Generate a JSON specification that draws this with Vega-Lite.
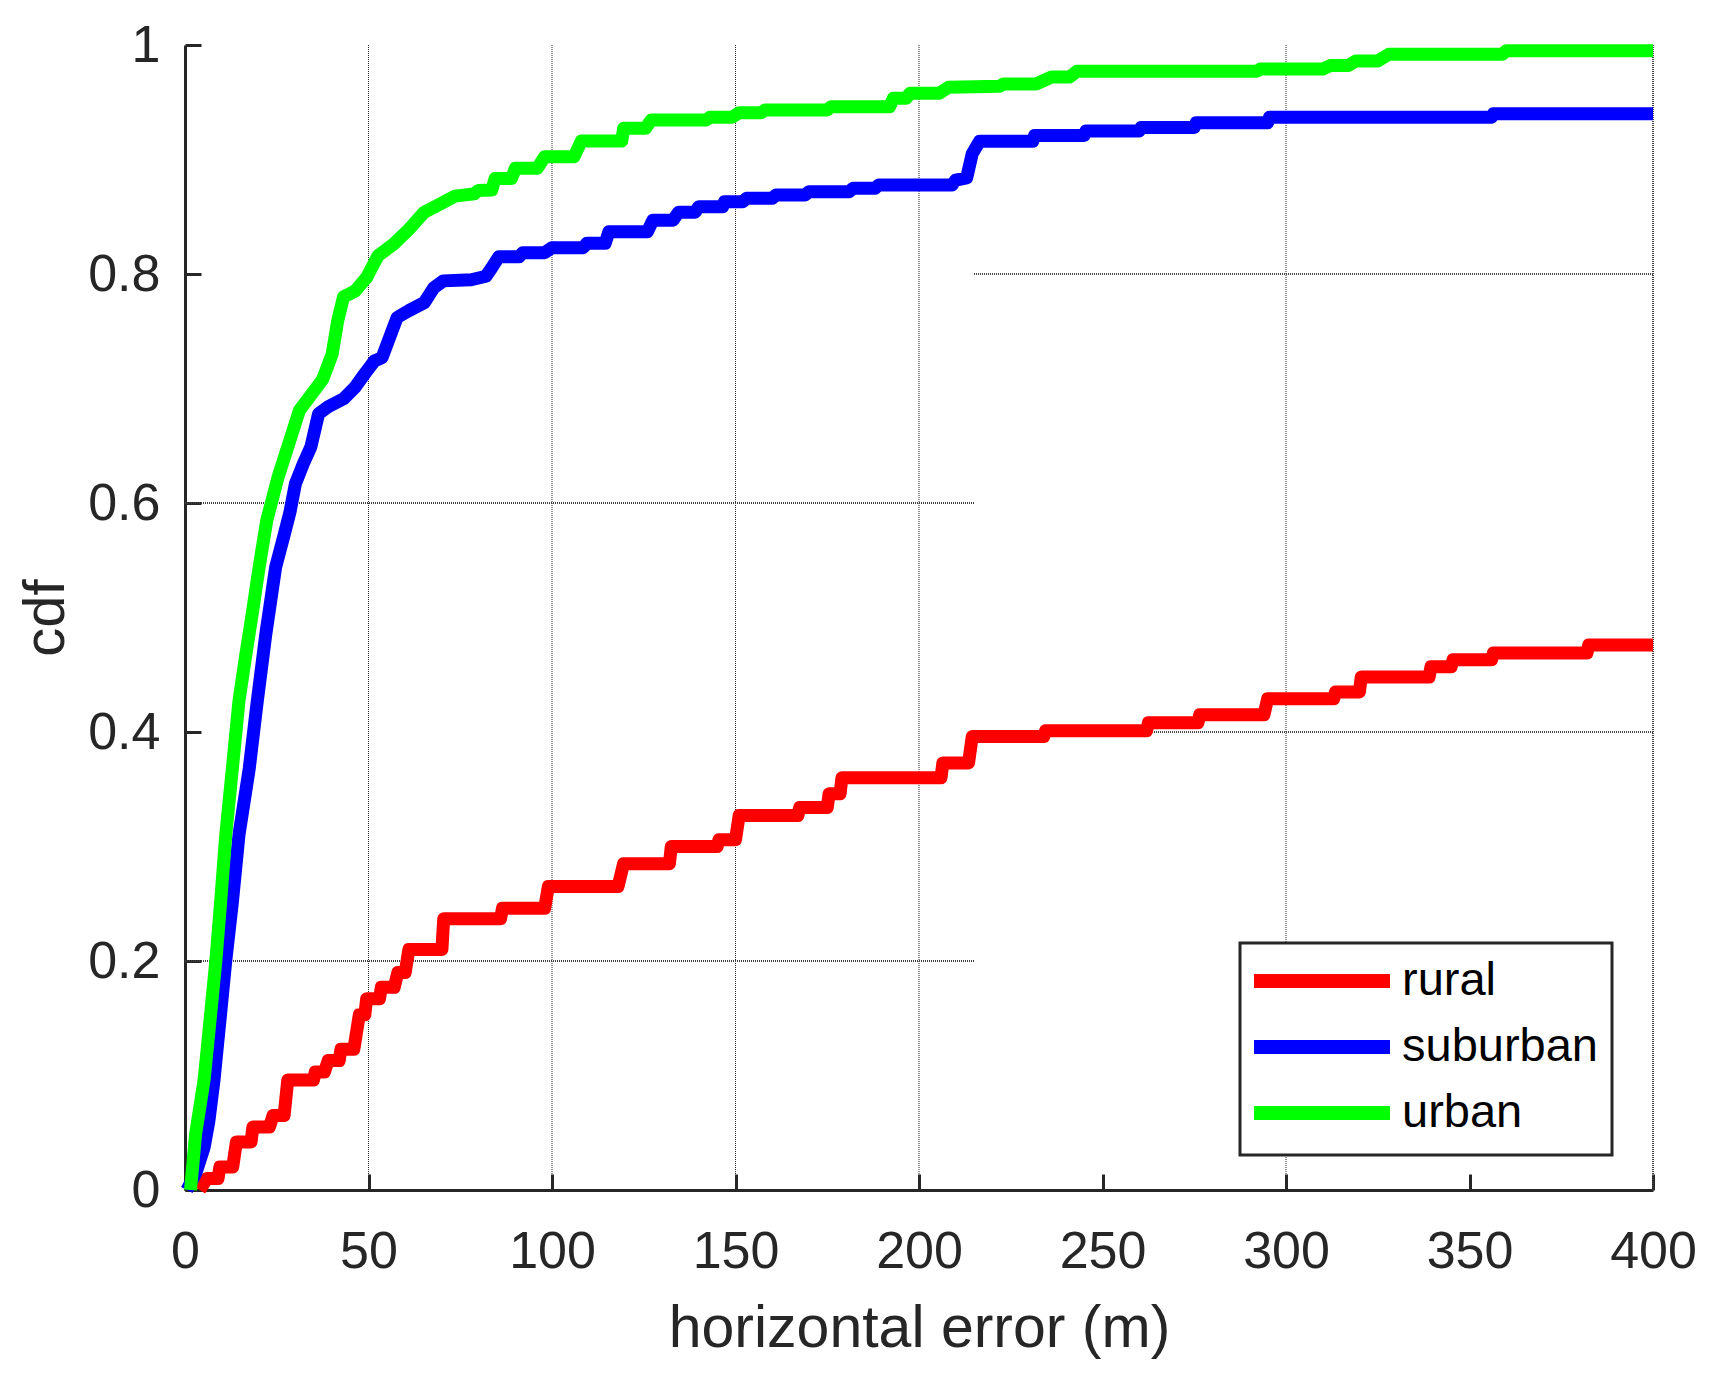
{
  "$schema": "https://vega.github.io/schema/vega-lite/v6.json",
  "autosize": {"type": "none"},
  "padding": {"left": 185, "top": 45, "right": 78, "bottom": 192},
  "width": 1468,
  "height": 1145,
  "background": "white",
  "config": {
    "view": {"stroke": null},
    "font": "Liberation Sans",
    "legend": {"strokeColor": "#262626", "strokeWidth": 3, "fillColor": "white"}
  },
  "datasets": {
    "gridThin": [
      {"x": 50, "x2": 50, "y": 0, "y2": 1},
      {"x": 100, "x2": 100, "y": 0, "y2": 1},
      {"x": 150, "x2": 150, "y": 0, "y2": 1},
      {"x": 200, "x2": 200, "y": 0, "y2": 1},
      {"x": 300, "x2": 300, "y": 0, "y2": 1}
    ],
    "gridThick": [
      {"x": 0, "x2": 215, "y": 0.2, "y2": 0.2},
      {"x": 0, "x2": 215, "y": 0.6, "y2": 0.6},
      {"x": 215, "x2": 400, "y": 0.4, "y2": 0.4},
      {"x": 215, "x2": 400, "y": 0.8, "y2": 0.8},
      {"x": 400, "x2": 400, "y": 0, "y2": 1}
    ],
    "curves": [
      {"s": "rural", "x": 4, "y": 0},
      {"s": "rural", "x": 6, "y": 0.01},
      {"s": "rural", "x": 9, "y": 0.01},
      {"s": "rural", "x": 9.5, "y": 0.02},
      {"s": "rural", "x": 13, "y": 0.02},
      {"s": "rural", "x": 14, "y": 0.042},
      {"s": "rural", "x": 18, "y": 0.042},
      {"s": "rural", "x": 18.5, "y": 0.055},
      {"s": "rural", "x": 23, "y": 0.055},
      {"s": "rural", "x": 24, "y": 0.065},
      {"s": "rural", "x": 27, "y": 0.065},
      {"s": "rural", "x": 28, "y": 0.096},
      {"s": "rural", "x": 35, "y": 0.096},
      {"s": "rural", "x": 35.5, "y": 0.103},
      {"s": "rural", "x": 38, "y": 0.103},
      {"s": "rural", "x": 39, "y": 0.113},
      {"s": "rural", "x": 42, "y": 0.113},
      {"s": "rural", "x": 42.5, "y": 0.123},
      {"s": "rural", "x": 46, "y": 0.123},
      {"s": "rural", "x": 47.5, "y": 0.153},
      {"s": "rural", "x": 49, "y": 0.153},
      {"s": "rural", "x": 49.5, "y": 0.167},
      {"s": "rural", "x": 53, "y": 0.167},
      {"s": "rural", "x": 53.5, "y": 0.177},
      {"s": "rural", "x": 57, "y": 0.177},
      {"s": "rural", "x": 58, "y": 0.19},
      {"s": "rural", "x": 60, "y": 0.19},
      {"s": "rural", "x": 61, "y": 0.21},
      {"s": "rural", "x": 70, "y": 0.21},
      {"s": "rural", "x": 70.5, "y": 0.237},
      {"s": "rural", "x": 86, "y": 0.237},
      {"s": "rural", "x": 86.5, "y": 0.246},
      {"s": "rural", "x": 98, "y": 0.246},
      {"s": "rural", "x": 99, "y": 0.265},
      {"s": "rural", "x": 118, "y": 0.265},
      {"s": "rural", "x": 119.5, "y": 0.285},
      {"s": "rural", "x": 132, "y": 0.285},
      {"s": "rural", "x": 132.5, "y": 0.3},
      {"s": "rural", "x": 145, "y": 0.3},
      {"s": "rural", "x": 145.5, "y": 0.306},
      {"s": "rural", "x": 150, "y": 0.306},
      {"s": "rural", "x": 151, "y": 0.327},
      {"s": "rural", "x": 167, "y": 0.327},
      {"s": "rural", "x": 167.5, "y": 0.334},
      {"s": "rural", "x": 175, "y": 0.334},
      {"s": "rural", "x": 175.5, "y": 0.346},
      {"s": "rural", "x": 178.5, "y": 0.346},
      {"s": "rural", "x": 179, "y": 0.36},
      {"s": "rural", "x": 206, "y": 0.36},
      {"s": "rural", "x": 206.5, "y": 0.373},
      {"s": "rural", "x": 213.5, "y": 0.373},
      {"s": "rural", "x": 214.5, "y": 0.396},
      {"s": "rural", "x": 234, "y": 0.396},
      {"s": "rural", "x": 234.5, "y": 0.401},
      {"s": "rural", "x": 262, "y": 0.401},
      {"s": "rural", "x": 262.5, "y": 0.408},
      {"s": "rural", "x": 276, "y": 0.408},
      {"s": "rural", "x": 276.5, "y": 0.415},
      {"s": "rural", "x": 294, "y": 0.415},
      {"s": "rural", "x": 295, "y": 0.429},
      {"s": "rural", "x": 313, "y": 0.429},
      {"s": "rural", "x": 313.5, "y": 0.435},
      {"s": "rural", "x": 320, "y": 0.435},
      {"s": "rural", "x": 320.5, "y": 0.448},
      {"s": "rural", "x": 339, "y": 0.448},
      {"s": "rural", "x": 339.5, "y": 0.457},
      {"s": "rural", "x": 345, "y": 0.457},
      {"s": "rural", "x": 345.5, "y": 0.463},
      {"s": "rural", "x": 356, "y": 0.463},
      {"s": "rural", "x": 356.5, "y": 0.469},
      {"s": "rural", "x": 382, "y": 0.469},
      {"s": "rural", "x": 382.5, "y": 0.476},
      {"s": "rural", "x": 400, "y": 0.476},

      {"s": "suburban", "x": 0.5, "y": 0},
      {"s": "suburban", "x": 3, "y": 0.015},
      {"s": "suburban", "x": 5.2, "y": 0.037},
      {"s": "suburban", "x": 6.5, "y": 0.06},
      {"s": "suburban", "x": 7.9, "y": 0.096},
      {"s": "suburban", "x": 9.7, "y": 0.154},
      {"s": "suburban", "x": 11.1, "y": 0.2},
      {"s": "suburban", "x": 12.9, "y": 0.251},
      {"s": "suburban", "x": 14.7, "y": 0.31},
      {"s": "suburban", "x": 17.5, "y": 0.368},
      {"s": "suburban", "x": 19.7, "y": 0.427},
      {"s": "suburban", "x": 22, "y": 0.485},
      {"s": "suburban", "x": 24.7, "y": 0.544},
      {"s": "suburban", "x": 27, "y": 0.572},
      {"s": "suburban", "x": 28.6, "y": 0.592},
      {"s": "suburban", "x": 30.1, "y": 0.617},
      {"s": "suburban", "x": 32.2, "y": 0.634},
      {"s": "suburban", "x": 34.3, "y": 0.649},
      {"s": "suburban", "x": 36.4, "y": 0.678},
      {"s": "suburban", "x": 39, "y": 0.684},
      {"s": "suburban", "x": 43.2, "y": 0.691},
      {"s": "suburban", "x": 46.3, "y": 0.701},
      {"s": "suburban", "x": 49, "y": 0.713},
      {"s": "suburban", "x": 51.6, "y": 0.724},
      {"s": "suburban", "x": 53.7, "y": 0.727},
      {"s": "suburban", "x": 55.8, "y": 0.745},
      {"s": "suburban", "x": 57.8, "y": 0.762},
      {"s": "suburban", "x": 61, "y": 0.768},
      {"s": "suburban", "x": 65.2, "y": 0.775},
      {"s": "suburban", "x": 67.8, "y": 0.788},
      {"s": "suburban", "x": 70.4, "y": 0.794},
      {"s": "suburban", "x": 78, "y": 0.795},
      {"s": "suburban", "x": 82, "y": 0.798},
      {"s": "suburban", "x": 83.5, "y": 0.805},
      {"s": "suburban", "x": 85.5, "y": 0.815},
      {"s": "suburban", "x": 91, "y": 0.815},
      {"s": "suburban", "x": 92, "y": 0.8186},
      {"s": "suburban", "x": 98, "y": 0.8186},
      {"s": "suburban", "x": 100, "y": 0.823},
      {"s": "suburban", "x": 108.5, "y": 0.823},
      {"s": "suburban", "x": 109.5, "y": 0.8268},
      {"s": "suburban", "x": 114.5, "y": 0.8268},
      {"s": "suburban", "x": 115.5, "y": 0.837},
      {"s": "suburban", "x": 126, "y": 0.837},
      {"s": "suburban", "x": 127.5, "y": 0.847},
      {"s": "suburban", "x": 133, "y": 0.847},
      {"s": "suburban", "x": 134.5, "y": 0.854},
      {"s": "suburban", "x": 139, "y": 0.854},
      {"s": "suburban", "x": 140, "y": 0.8588},
      {"s": "suburban", "x": 146.5, "y": 0.8588},
      {"s": "suburban", "x": 147, "y": 0.8632},
      {"s": "suburban", "x": 152, "y": 0.8632},
      {"s": "suburban", "x": 153, "y": 0.8661},
      {"s": "suburban", "x": 160, "y": 0.8661},
      {"s": "suburban", "x": 161, "y": 0.869},
      {"s": "suburban", "x": 169, "y": 0.869},
      {"s": "suburban", "x": 170, "y": 0.8719},
      {"s": "suburban", "x": 181, "y": 0.8719},
      {"s": "suburban", "x": 182, "y": 0.8748},
      {"s": "suburban", "x": 188, "y": 0.8748},
      {"s": "suburban", "x": 189, "y": 0.8777},
      {"s": "suburban", "x": 209, "y": 0.8777},
      {"s": "suburban", "x": 210, "y": 0.882},
      {"s": "suburban", "x": 213, "y": 0.884},
      {"s": "suburban", "x": 214.5, "y": 0.905},
      {"s": "suburban", "x": 216.5, "y": 0.916},
      {"s": "suburban", "x": 231, "y": 0.916},
      {"s": "suburban", "x": 231.5, "y": 0.921},
      {"s": "suburban", "x": 245, "y": 0.921},
      {"s": "suburban", "x": 245.5, "y": 0.925},
      {"s": "suburban", "x": 260, "y": 0.925},
      {"s": "suburban", "x": 260.5, "y": 0.928},
      {"s": "suburban", "x": 275, "y": 0.928},
      {"s": "suburban", "x": 275.5, "y": 0.932},
      {"s": "suburban", "x": 295, "y": 0.932},
      {"s": "suburban", "x": 295.5, "y": 0.937},
      {"s": "suburban", "x": 356, "y": 0.937},
      {"s": "suburban", "x": 356.5, "y": 0.94},
      {"s": "suburban", "x": 400, "y": 0.94},

      {"s": "urban", "x": 1.5, "y": 0},
      {"s": "urban", "x": 2.9, "y": 0.049},
      {"s": "urban", "x": 5.2, "y": 0.096},
      {"s": "urban", "x": 7, "y": 0.154},
      {"s": "urban", "x": 8.4, "y": 0.2},
      {"s": "urban", "x": 9.7, "y": 0.251},
      {"s": "urban", "x": 11.1, "y": 0.31},
      {"s": "urban", "x": 12.9, "y": 0.368},
      {"s": "urban", "x": 14.7, "y": 0.427},
      {"s": "urban", "x": 16.5, "y": 0.466},
      {"s": "urban", "x": 18.4, "y": 0.505},
      {"s": "urban", "x": 20.2, "y": 0.544},
      {"s": "urban", "x": 22.3, "y": 0.585},
      {"s": "urban", "x": 25.4, "y": 0.623},
      {"s": "urban", "x": 28.6, "y": 0.655},
      {"s": "urban", "x": 31.2, "y": 0.681},
      {"s": "urban", "x": 33.8, "y": 0.692},
      {"s": "urban", "x": 37.5, "y": 0.708},
      {"s": "urban", "x": 40.1, "y": 0.73},
      {"s": "urban", "x": 41.6, "y": 0.759},
      {"s": "urban", "x": 43.2, "y": 0.78},
      {"s": "urban", "x": 46.3, "y": 0.785},
      {"s": "urban", "x": 49.5, "y": 0.797},
      {"s": "urban", "x": 52.6, "y": 0.816},
      {"s": "urban", "x": 56.8, "y": 0.826},
      {"s": "urban", "x": 61, "y": 0.839},
      {"s": "urban", "x": 65.2, "y": 0.854},
      {"s": "urban", "x": 69.4, "y": 0.861},
      {"s": "urban", "x": 73.5, "y": 0.868},
      {"s": "urban", "x": 78.8, "y": 0.87},
      {"s": "urban", "x": 80, "y": 0.873},
      {"s": "urban", "x": 83.6, "y": 0.8734},
      {"s": "urban", "x": 84.5, "y": 0.8835},
      {"s": "urban", "x": 89, "y": 0.8835},
      {"s": "urban", "x": 90, "y": 0.8923},
      {"s": "urban", "x": 96, "y": 0.8923},
      {"s": "urban", "x": 98, "y": 0.9024},
      {"s": "urban", "x": 106, "y": 0.9024},
      {"s": "urban", "x": 108, "y": 0.9161},
      {"s": "urban", "x": 119, "y": 0.9161},
      {"s": "urban", "x": 119.5, "y": 0.9272},
      {"s": "urban", "x": 125.5, "y": 0.9272},
      {"s": "urban", "x": 127, "y": 0.9345},
      {"s": "urban", "x": 142, "y": 0.9345},
      {"s": "urban", "x": 143, "y": 0.9368},
      {"s": "urban", "x": 149, "y": 0.9368},
      {"s": "urban", "x": 151, "y": 0.9409},
      {"s": "urban", "x": 157, "y": 0.9409},
      {"s": "urban", "x": 158, "y": 0.9432},
      {"s": "urban", "x": 175, "y": 0.9432},
      {"s": "urban", "x": 176, "y": 0.9461},
      {"s": "urban", "x": 192, "y": 0.9461},
      {"s": "urban", "x": 193, "y": 0.9534},
      {"s": "urban", "x": 196.5, "y": 0.9534},
      {"s": "urban", "x": 197.5, "y": 0.9578},
      {"s": "urban", "x": 205.5, "y": 0.9578},
      {"s": "urban", "x": 208, "y": 0.963},
      {"s": "urban", "x": 222, "y": 0.964},
      {"s": "urban", "x": 223, "y": 0.966},
      {"s": "urban", "x": 232, "y": 0.966},
      {"s": "urban", "x": 234, "y": 0.969},
      {"s": "urban", "x": 236, "y": 0.972},
      {"s": "urban", "x": 241, "y": 0.972},
      {"s": "urban", "x": 243, "y": 0.977},
      {"s": "urban", "x": 292, "y": 0.977},
      {"s": "urban", "x": 293, "y": 0.979},
      {"s": "urban", "x": 310, "y": 0.979},
      {"s": "urban", "x": 312, "y": 0.982},
      {"s": "urban", "x": 317, "y": 0.982},
      {"s": "urban", "x": 319, "y": 0.986},
      {"s": "urban", "x": 325, "y": 0.986},
      {"s": "urban", "x": 328, "y": 0.992},
      {"s": "urban", "x": 359, "y": 0.992},
      {"s": "urban", "x": 360, "y": 0.995},
      {"s": "urban", "x": 400, "y": 0.995}
    ]
  },
  "layer": [
    {
      "data": {"name": "gridThin"},
      "mark": {"type": "rule", "color": "#262626", "strokeWidth": 1, "strokeDash": [1, 1]},
      "encoding": {
        "x": {"field": "x", "type": "quantitative", "title": "horizontal error (m)"},
        "x2": {"field": "x2"},
        "y": {"field": "y", "type": "quantitative", "title": "cdf"},
        "y2": {"field": "y2"}
      }
    },
    {
      "data": {"name": "gridThick"},
      "mark": {"type": "rule", "color": "#404040", "strokeWidth": 2, "strokeDash": [1, 1]},
      "encoding": {
        "x": {"field": "x", "type": "quantitative", "title": "horizontal error (m)"},
        "x2": {"field": "x2"},
        "y": {"field": "y", "type": "quantitative", "title": "cdf"},
        "y2": {"field": "y2"}
      }
    },
    {
      "data": {"name": "curves"},
      "mark": {"type": "line", "strokeWidth": 13, "strokeJoin": "round", "strokeCap": "butt"},
      "encoding": {
        "x": {
          "field": "x", "type": "quantitative", "title": "horizontal error (m)",
          "scale": {"domain": [0, 400], "nice": false, "zero": false},
          "axis": {
            "values": [0, 50, 100, 150, 200, 250, 300, 350, 400],
            "format": "d", "grid": false,
            "domainColor": "#262626", "domainWidth": 3,
            "tickColor": "#262626", "tickWidth": 3, "tickSize": -16,
            "labelFont": "Liberation Sans", "labelFontSize": 52, "labelColor": "#262626",
            "labelPadding": 52, "labelFlush": false, "labelOverlap": false, "labelBound": false,
            "titleFont": "Liberation Sans", "titleFontSize": 59, "titleFontWeight": "normal",
            "titleColor": "#262626", "titlePadding": 22
          }
        },
        "y": {
          "field": "y", "type": "quantitative", "title": "cdf",
          "scale": {"domain": [0, 1], "nice": false, "zero": false},
          "axis": {
            "values": [0, 0.2, 0.4, 0.6, 0.8, 1],
            "format": "~g", "grid": false,
            "domainColor": "#262626", "domainWidth": 3,
            "tickColor": "#262626", "tickWidth": 3, "tickSize": -16,
            "labelFont": "Liberation Sans", "labelFontSize": 52, "labelColor": "#262626",
            "labelPadding": 41, "labelFlush": false, "labelOverlap": false, "labelBound": false,
            "titleFont": "Liberation Sans", "titleFontSize": 58, "titleFontWeight": "normal",
            "titleColor": "#262626", "titlePadding": 12
          }
        },
        "color": {
          "field": "s", "type": "nominal",
          "scale": {"domain": ["rural", "suburban", "urban"], "range": ["#ff0000", "#0000ff", "#00ff00"]},
          "legend": {
            "title": null,
            "orient": "none",
            "legendX": 1055,
            "legendY": 898,
            "direction": "vertical",
            "symbolType": "M-4,0H4",
            "symbolSize": 1156,
            "symbolStrokeWidth": 14,
            "symbolOffset": 44,
            "labelOffset": 56,
            "labelLimit": 400,
            "labelFont": "Liberation Sans",
            "labelFontSize": 47,
            "labelColor": "#000000",
            "rowPadding": 10,
            "padding": 14,
            "strokeColor": "#262626",
            "fillColor": "white"
          }
        }
      }
    }
  ]
}
